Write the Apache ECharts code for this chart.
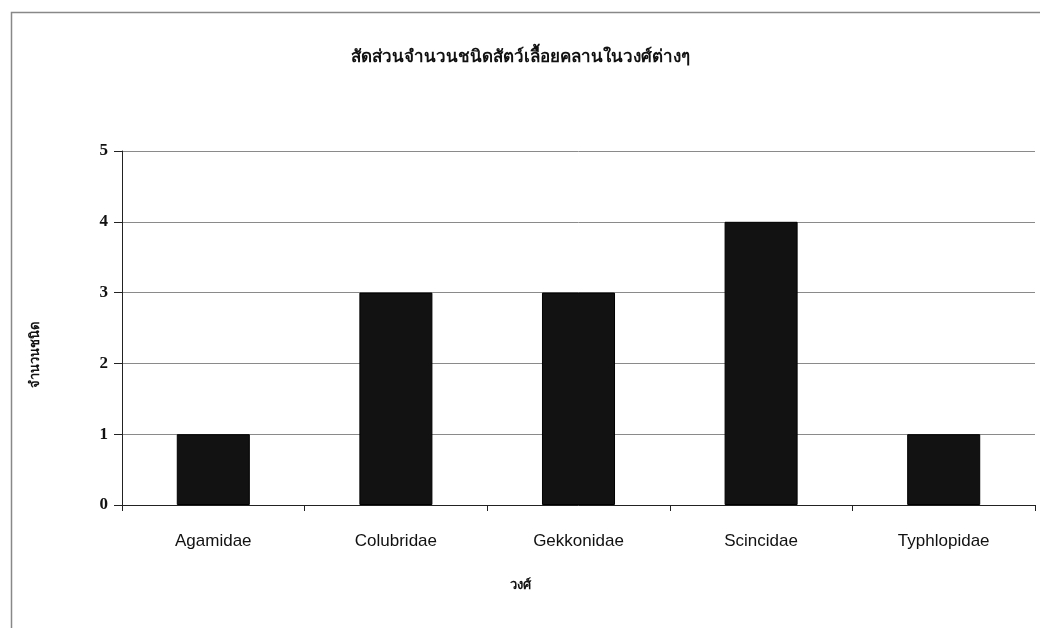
<!DOCTYPE html>
<html>
<head>
<meta charset="utf-8">
<script src="https://cdn.jsdelivr.net/npm/echarts@6/dist/echarts.min.js"></script>
<style>
html,body{margin:0;padding:0;background:#fff;}
#main{width:1040px;height:628px;}
</style>
</head>
<body>
<div id="main"></div>
<script>
// 数据
var families = ['Agamidae', 'Colubridae', 'Gekkonidae', 'Scincidae', 'Typhlopidae'];
var counts = [1, 3, 3, 4, 1];
var yTicks = [0, 1, 2, 3, 4, 5];

var thaiFont = '"Noto Sans", "Noto Sans CJK SC", "DejaVu Sans", sans-serif';
var myChart = echarts.init(document.getElementById('main'));

var option = {
    backgroundColor: '#fff',
    animation: false,
    title: {
        text: 'สัดส่วนจำนวนชนิดสัตว์เลื้อยคลานในวงศ์ต่างๆ',
        left: 'center',
        top: 44,
        textStyle: {
            fontFamily: thaiFont,
            fontSize: 17,
            fontWeight: 'bold',
            color: '#111'
        }
    },
    graphic: [{
        type: 'rect',
        left: 9,
        top: 10,
        shape: {width: 1100, height: 700},
        style: {fill: 'none', stroke: '#888', lineWidth: 1.5},
        silent: true
    }],
    grid: {
        left: 122,
        right: 5,
        top: 151,
        bottom: 123
    },
    xAxis: {
        type: 'category',
        data: families,
        name: 'วงศ์',
        nameLocation: 'middle',
        nameGap: 74,
        nameTextStyle: {
            fontFamily: thaiFont,
            fontSize: 13,
            fontWeight: 'bold',
            color: '#111',
            padding: [0, 116, 0, 0]
        },
        axisLine: {lineStyle: {color: '#222', width: 1}},
        axisTick: {show: true, alignWithLabel: false, length: 6, lineStyle: {color: '#222'}},
        axisLabel: {
            fontFamily: '"Liberation Sans", Arial, sans-serif',
            fontSize: 17,
            color: '#111',
            margin: 28
        }
    },
    yAxis: {
        type: 'value',
        min: 0,
        max: yTicks[yTicks.length - 1],
        interval: 1,
        name: 'จำนวนชนิด',
        nameLocation: 'middle',
        nameGap: 80,
        nameRotate: 90,
        nameTextStyle: {
            fontFamily: thaiFont,
            fontSize: 13,
            fontWeight: 'bold',
            color: '#111',
            padding: [0, 54, 0, 0]
        },
        axisLine: {show: true, lineStyle: {color: '#222', width: 1}},
        axisTick: {show: true, length: 8, lineStyle: {color: '#222'}},
        axisLabel: {
            fontFamily: '"Liberation Serif", "Times New Roman", serif',
            fontSize: 17,
            fontWeight: 'bold',
            color: '#111',
            margin: 14
        },
        splitLine: {show: true, lineStyle: {color: '#8a8a8a', width: 1}}
    },
    series: [{
        type: 'bar',
        data: counts,
        barWidth: '40%',
        itemStyle: {
            color: '#121212',
            borderColor: '#000',
            borderWidth: 1
        }
    }]
};
myChart.setOption(option, true);
</script>
</body>
</html>
